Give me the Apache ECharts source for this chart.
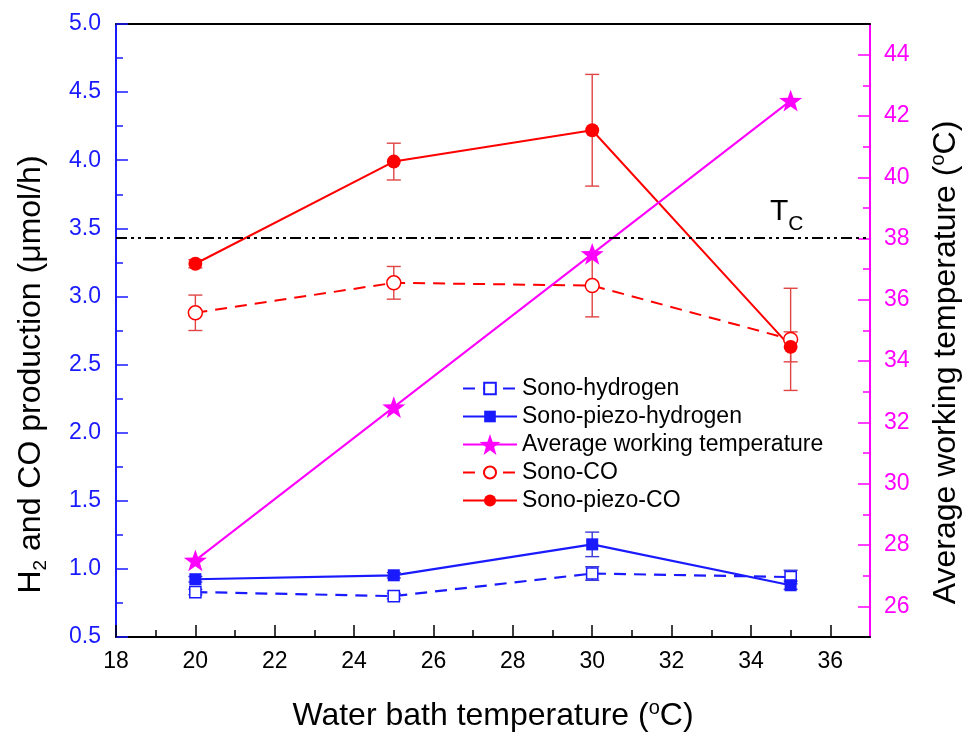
<!DOCTYPE html>
<html><head><meta charset="utf-8">
<script src="https://cdn.jsdelivr.net/npm/echarts@6/dist/echarts.min.js"></script>
<style>html,body{margin:0;padding:0;background:#fff}#c{width:965px;height:735px}</style>
</head><body><div id="c"></div>
<script>
// ---- data ----
const bathTemps   = [20, 25, 30, 35];
const sonoH2      = [0.83, 0.80, 0.966, 0.94];
const sonoH2Err   = [0.02, 0.02, 0.05, 0.05];
const piezoH2     = [0.924, 0.953, 1.18, 0.88];
const piezoH2Err  = [0.02, 0.02, 0.09, 0.03];
const avgTemp     = [27.5, 32.5, 37.5, 42.5];
const sonoCO      = [2.88, 3.10, 3.08, 2.685];
const sonoCOErr   = [0.13, 0.12, 0.23, 0.375];
const piezoCO     = [3.24, 3.99, 4.22, 2.63];
const piezoCOErr  = [0.03, 0.135, 0.41, 0.11];
const tcLevel     = 3.43;
const tcLabelPos  = [34.9, 3.62];
const xMajorTicks = [18, 20, 22, 24, 26, 28, 30, 32, 34, 36];
const xMinorTicks = [19, 21, 23, 25, 27, 29, 31, 33, 35];
const rMajorTicks = [26, 28, 30, 32, 34, 36, 38, 40, 42, 44];
const rMinorTicks = [27, 29, 31, 33, 35, 37, 39, 41, 43];

const FONT = 'Liberation Sans, Arial, sans-serif';
const BLUE = '#1a1aff', RED = '#ff0000', MAG = '#ff00ff';
const EBLUE = '#3a3ad8', ERED = '#e04444';
// symbol shapes (padded boxes so that legend icons keep the reference proportions)
const STAR = 'path://M0,-10 L2.35,-3.24 L9.51,-3.09 L3.8,1.24 L5.88,8.09 L0,4 L-5.88,8.09 L-3.8,1.24 L-9.51,-3.09 L-2.35,-3.24 Z';
const SQUARE = 'path://M-10,-10 M10,10 M-5.6,-5.6 L5.6,-5.6 L5.6,5.6 L-5.6,5.6 Z';
const CIRCLE = 'path://M-10,-10 M10,10 M-5.8,0 A5.8,5.8 0 1,1 5.8,0 A5.8,5.8 0 1,1 -5.8,0 Z';

function pairs(ys) { return bathTemps.map((x, i) => [x, ys[i]]); }
function errSeries(ys, errs, color) {
  return {
    type: 'custom', xAxisIndex: 0, yAxisIndex: 0, silent: true, z: 1,
    data: bathTemps.map((x, i) => [x, ys[i] - errs[i], ys[i] + errs[i]]),
    encode: { x: 0, y: [1, 2] },
    renderItem: function (params, api) {
      const lo = api.coord([api.value(0), api.value(1)]);
      const hi = api.coord([api.value(0), api.value(2)]);
      const hw = 7;
      const st = { stroke: color, lineWidth: 1.4 };
      return { type: 'group', children: [
        { type: 'line', shape: { x1: lo[0], y1: lo[1], x2: hi[0], y2: hi[1] }, style: st },
        { type: 'line', shape: { x1: lo[0] - hw, y1: lo[1], x2: lo[0] + hw, y2: lo[1] }, style: st },
        { type: 'line', shape: { x1: hi[0] - hw, y1: hi[1], x2: hi[0] + hw, y2: hi[1] }, style: st }
      ] };
    }
  };
}
const titleRich = {
  sup: { fontSize: 20, fontFamily: FONT, color: '#000', verticalAlign: 'middle', padding: [0, 0, 16, 0] },
  sub: { fontSize: 19, fontFamily: FONT, color: '#000', verticalAlign: 'middle', padding: [19, 0, 0, 0] }
};

const chart = echarts.init(document.getElementById('c'), null, { renderer: 'canvas' });
chart.setOption({
  animation: false,
  backgroundColor: '#fff',
  grid: { left: 116, right: 95, top: 24, bottom: 98, outerBoundsMode: 'none' },
  legend: {
    left: 462, top: 377, padding: 0, orient: 'vertical', itemWidth: 54, itemHeight: 26, itemGap: 5,
    textStyle: { fontSize: 23, fontFamily: FONT, color: '#000' },
    data: ['Sono-hydrogen', 'Sono-piezo-hydrogen', 'Average working temperature', 'Sono-CO', 'Sono-piezo-CO']
  },
  xAxis: [
    {
      type: 'value', min: 18, max: 37, position: 'bottom',
      axisLine: { lineStyle: { color: '#000', width: 2 } },
      axisTick: { customValues: xMajorTicks, inside: true, length: 12, lineStyle: { color: '#000', width: 1.5 } },
      axisLabel: { customValues: xMajorTicks, fontSize: 23, fontFamily: FONT, color: '#000', margin: 13 },
      splitLine: { show: false },
      name: 'Water bath temperature ({sup|o}C)', nameLocation: 'middle', nameGap: 61,
      nameTextStyle: { fontSize: 32, fontFamily: FONT, color: '#000', rich: titleRich }
    },
    {
      type: 'value', min: 18, max: 37, position: 'bottom',
      axisLine: { show: false },
      axisTick: { customValues: xMinorTicks, inside: true, length: 7, lineStyle: { color: '#000', width: 1.5 } },
      axisLabel: { show: false }, splitLine: { show: false }
    },
    {
      type: 'value', min: 18, max: 37, position: 'top',
      axisLine: { lineStyle: { color: '#000', width: 2 } },
      axisTick: { show: false }, axisLabel: { show: false }, splitLine: { show: false }
    }
  ],
  yAxis: [
    {
      type: 'value', min: 0.5, max: 5, interval: 0.5, position: 'left',
      axisLine: { show: true, lineStyle: { color: BLUE, width: 2 } },
      axisTick: { show: true, inside: true, length: 12, lineStyle: { color: BLUE, width: 1.5 } },
      minorTick: { show: true, splitNumber: 2, length: 7, lineStyle: { color: BLUE, width: 1.5 } },
      axisLabel: { fontSize: 23, fontFamily: FONT, color: BLUE, margin: 15, formatter: v => v.toFixed(1) },
      splitLine: { show: false },
      name: 'H{sub|2} and CO production (μmol/h)', nameLocation: 'middle', nameGap: 66, nameRotate: 90,
      nameTextStyle: { fontSize: 32, fontFamily: FONT, color: '#000', rich: titleRich, padding: [0, 88, 0, 0] }
    },
    {
      type: 'value', min: 25, max: 45, position: 'right',
      axisLine: { show: true, lineStyle: { color: MAG, width: 2 } },
      axisTick: { show: true, customValues: rMajorTicks, inside: true, length: 12, lineStyle: { color: MAG, width: 1.5 } },
      axisLabel: { customValues: rMajorTicks, fontSize: 23, fontFamily: FONT, color: MAG, margin: 14 },
      splitLine: { show: false },
      name: 'Average working temperature ({sup|o}C)', nameLocation: 'middle', nameGap: 58, nameRotate: 90,
      nameTextStyle: { fontSize: 32, fontFamily: FONT, color: '#000', rich: titleRich, padding: [0, 64, 0, 0] }
    },
    {
      type: 'value', min: 25, max: 45, position: 'right',
      axisLine: { show: false },
      axisTick: { show: true, customValues: rMinorTicks, inside: true, length: 7, lineStyle: { color: MAG, width: 1.5 } },
      axisLabel: { show: false }, splitLine: { show: false }
    }
  ],
  series: [
    errSeries(sonoH2, sonoH2Err, EBLUE),
    errSeries(piezoH2, piezoH2Err, EBLUE),
    errSeries(sonoCO, sonoCOErr, ERED),
    errSeries(piezoCO, piezoCOErr, ERED),
    {
      name: 'Sono-hydrogen', type: 'line', z: 3, data: pairs(sonoH2),
      symbol: SQUARE, symbolSize: 20,
      itemStyle: { color: '#fff', borderColor: BLUE, borderWidth: 1.5 },
      lineStyle: { color: BLUE, width: 2.2, type: [12, 8] }
    },
    {
      name: 'Sono-piezo-hydrogen', type: 'line', z: 3, data: pairs(piezoH2),
      symbol: SQUARE, symbolSize: 21.5,
      itemStyle: { color: BLUE, borderColor: BLUE, borderWidth: 0 },
      lineStyle: { color: BLUE, width: 2.2 }
    },
    {
      name: 'Sono-CO', type: 'line', z: 3, data: pairs(sonoCO),
      symbol: CIRCLE, symbolSize: 24,
      itemStyle: { color: '#fff', borderColor: RED, borderWidth: 1.5 },
      lineStyle: { color: RED, width: 2, type: [12, 8] }
    },
    {
      name: 'Sono-piezo-CO', type: 'line', z: 3, data: pairs(piezoCO),
      symbol: CIRCLE, symbolSize: 24,
      itemStyle: { color: RED, borderColor: RED, borderWidth: 0 },
      lineStyle: { color: RED, width: 2 },
      markLine: {
        silent: true, symbol: 'none', label: { show: false },
        lineStyle: { color: '#000', width: 2, type: [11, 4, 3, 4, 3, 4] },
        data: [{ yAxis: tcLevel }]
      },
      markPoint: {
        silent: true, symbol: 'circle', symbolSize: 0,
        data: [{ coord: tcLabelPos }],
        label: {
          show: true, position: 'inside', formatter: 'T{sub|C}',
          fontSize: 30, fontFamily: FONT, color: '#000',
          rich: { sub: { fontSize: 21, fontFamily: FONT, color: '#000', verticalAlign: 'middle', padding: [24, 0, 0, 0] } }
        }
      }
    },
    {
      name: 'Average working temperature', type: 'line', yAxisIndex: 1, z: 4, data: pairs(avgTemp),
      symbol: STAR, symbolSize: 23, symbolKeepAspect: true,
      itemStyle: { color: MAG, borderWidth: 0 },
      lineStyle: { color: MAG, width: 2 }
    }
  ]
});
</script></body></html>
